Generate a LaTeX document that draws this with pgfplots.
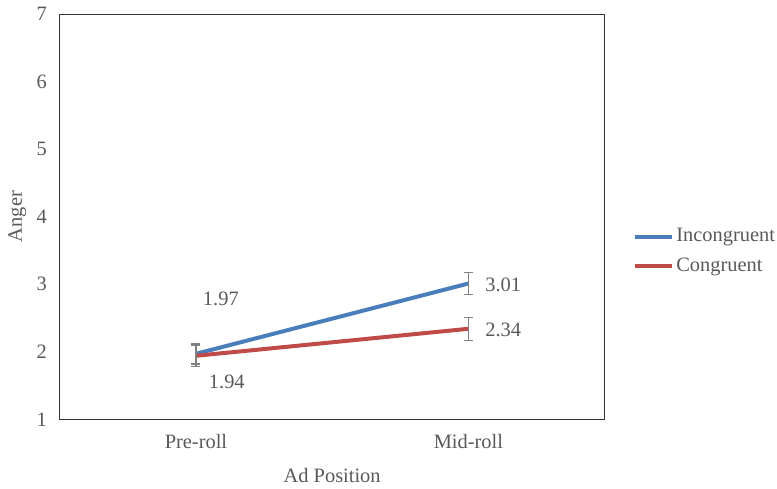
\documentclass[border=0pt]{standalone}
\usepackage{fontspec}
\setmainfont{Liberation Serif}
\usepackage{pgfplots}
\pgfplotsset{compat=1.18}
\definecolor{cblue}{HTML}{4A7EBB}
\definecolor{cred}{HTML}{BE4B48}
\definecolor{tgray}{HTML}{595959}
\begin{document}
\fontsize{20bp}{24bp}\selectfont
\begin{tikzpicture}
\begin{axis}[
  at={(0,0)}, anchor=south west,
  scale only axis, width=547bp, height=407bp,
  xmin=-0.5, xmax=1.5, ymin=1, ymax=7,
  xtick={0,1}, xticklabels={Pre-roll,Mid-roll},
  ytick={1,2,3,4,5,6,7},
  major tick length=0pt,
  axis line style={black!80, line width=0.9bp},
  /pgf/number format/assume math mode=true,
  ticklabel style={font=\fontsize{20.5bp}{24bp}\selectfont, text=tgray},
  yticklabel style={xshift=-6bp},
  xticklabel style={yshift=-8bp},
  xlabel={Ad Position}, ylabel={Anger},
  label style={font=\fontsize{20.5bp}{24bp}\selectfont, text=tgray},
  xlabel style={yshift=-6bp},
  ylabel style={yshift=-3bp},
  legend style={draw=none, fill=none, at={(1.051,0.414)}, anchor=west,
    font=\fontsize{20.5bp}{24bp}\selectfont, text=tgray, inner sep=0pt,
    row sep=9bp, cells={anchor=west}},
  legend cell align=left,
  legend image code/.code={\draw[#1, line width=4bp] (0bp,0bp) -- (38bp,0bp);},
  nodes near coords,
  point meta=explicit symbolic,
  visualization depends on={\thisrow{dx} \as \dx},
  visualization depends on={\thisrow{dy} \as \dy},
  nodes near coords style={font=\fontsize{20.5bp}{24bp}\selectfont, text=tgray,
    anchor=center, xshift=\dx, yshift=\dy},
  error bars/y dir=both, error bars/y explicit,
  error bars/error bar style={gray, line width=1.3bp},
  error bars/error mark options={rotate=90, mark size=4.5bp, gray, line width=1.3bp},
]
\addplot[cblue, line width=4bp, mark=none] table[x=x, y=y, y error=e, meta=lab] {
x y e lab dx dy
0 1.97 0.15 1.97 25bp 55bp
1 3.01 0.16 3.01 35bp -1bp
};
\addlegendentry{Incongruent}
\addplot[cred, line width=4bp, mark=none] table[x=x, y=y, y error=e, meta=lab] {
x y e lab dx dy
0 1.94 0.16 1.94 31bp -26bp
1 2.34 0.17 2.34 35bp -1bp
};
\addlegendentry{Congruent}
\end{axis}
\path[use as bounding box] (-60bp,-67bp) rectangle (717bp,421bp);
\end{tikzpicture}
\end{document}
